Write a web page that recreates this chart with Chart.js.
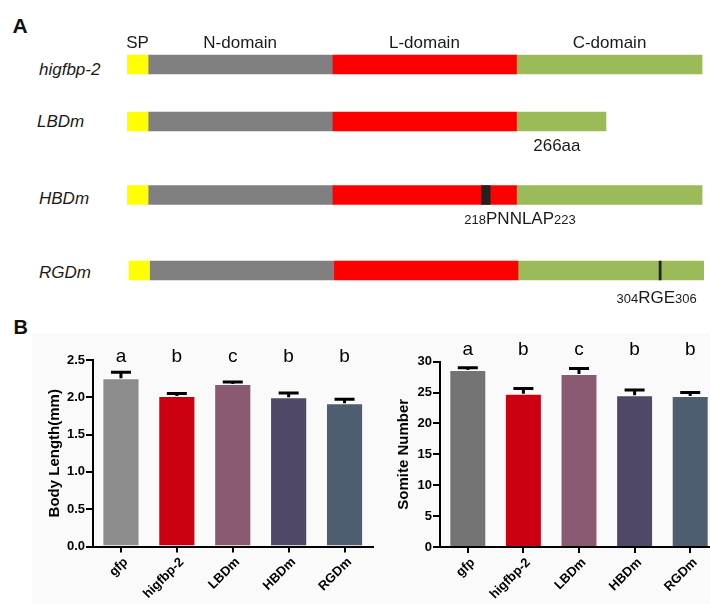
<!DOCTYPE html>
<html>
<head>
<meta charset="utf-8">
<script src="https://cdn.jsdelivr.net/npm/chart.js"></script>
<style>
html, body { margin: 0; padding: 0; background: #fff; overflow: hidden; }
#page { position: relative; width: 710px; height: 604px; overflow: hidden; font-family: "Liberation Sans", Arial, sans-serif; }
#page canvas { position: absolute; }
.tag { position: absolute; font-weight: bold; color: #111; }
.row { position: absolute; font-style: italic; font-size: 17px; line-height: 17px; color: #1a1a1a; }
#bgB { position: absolute; left: 32px; top: 333px; width: 678px; height: 271px; background: #fafafa; }
</style>
</head>
<body>
<div id="page">
  <div class="tag" style="left:12.5px;top:15px;font-size:21px;line-height:21px">A</div>
  <div class="row" style="left:39px;top:61px">higfbp-2</div>
  <div class="row" style="left:37px;top:113px">LBDm</div>
  <div class="row" style="left:39px;top:189.5px">HBDm</div>
  <div class="row" style="left:39px;top:264px">RGDm</div>
  <div id="bgB"></div>
  <div class="tag" style="left:13.5px;top:316.5px;font-size:20px;line-height:20px">B</div>
  <canvas id="body" width="385" height="274" style="left:0;top:330px"></canvas>
  <canvas id="somite" width="345" height="274" style="left:380px;top:330px"></canvas>
</div>
<script>
const FONT = '"Liberation Sans", Arial, sans-serif';
Chart.defaults.font.family = FONT;

// A: construct maps, in amino-acid units
const constructs = ['higfbp-2', 'LBDm', 'HBDm', 'RGDm'];
const domainNames = ['SP', 'N-domain', 'L-domain', 'C-domain'];
const domainColors = ['#ffff00', '#808080', '#ff0000', '#9bbb59'];
const spAA = [[0, 12], [0, 12], [0, 12], [0, 12]];
const nAA = [[12, 117], [12, 117], [12, 117], [12, 117]];
const lAA = [[117, 222], [117, 222], [117, 222], [117, 222]];
const cAA = [[222, 328], [222, 273], [222, 328], [222, 328]];
const mutAA = [null, null, [202, 207], [302.4, 303.6]];
const notePre = ['', '', '218', '304'];
const noteMain = ['', '266aa', 'PNNLAP', 'RGE'];
const notePost = ['', '', '223', '306'];
const noteAt = [null, 245, 224, 301];

// B: body length and somite number
const groups = ['gfp', 'higfbp-2', 'LBDm', 'HBDm', 'RGDm'];
const bodyLength = [2.255, 2.017, 2.178, 2.0, 1.92];
const bodyLengthSem = [0.08, 0.034, 0.027, 0.058, 0.055];
const somites = [28.64, 24.8, 27.99, 24.55, 24.43];
const somitesSem = [0.37, 0.88, 0.92, 0.85, 0.6];
const sigLetters = ['a', 'b', 'c', 'b', 'b'];

// row layout of panel A (page pixels)
const rowCenter = [64.5, 121.5, 195, 270.5];
const rowShift = [0, 0, 0, 1.5];
const noteDrop = [0, 29.2, 29, 32.8];

const rowText = {
  id: 'rowText',
  afterDatasetsDraw(chart, args, o) {
    const {ctx, chartArea, scales: {x}} = chart;
    const mid = (chartArea.top + chartArea.bottom) / 2;
    const i = o.row;
    ctx.save();
    ctx.fillStyle = '#1a1a1a';
    ctx.textBaseline = 'alphabetic';
    if (i === 0) {
      ctx.font = '17px ' + FONT;
      ctx.textAlign = 'center';
      [spAA, nAA, lAA, cAA].forEach((d, k) => {
        const r = d[i];
        ctx.fillText(domainNames[k], x.getPixelForValue((r[0] + r[1]) / 2), mid - 16.5);
      });
    }
    if (noteAt[i] !== null) {
      const parts = [[notePre[i], 13], [noteMain[i], 17], [notePost[i], 13]];
      let w = 0;
      parts.forEach(p => { ctx.font = p[1] + 'px ' + FONT; p.push(ctx.measureText(p[0]).width); w += p[2]; });
      let cx = x.getPixelForValue(noteAt[i]) - w / 2;
      ctx.textAlign = 'left';
      parts.forEach(p => { ctx.font = p[1] + 'px ' + FONT; ctx.fillText(p[0], cx, mid + noteDrop[i]); cx += p[2]; });
    }
    ctx.restore();
  }
};

function makeRow(i) {
  const wantTop = i === 0 ? 27 : 4;
  const padBottom = i === 0 ? 6 : 40;
  const top = Math.floor(rowCenter[i] - 20 - wantTop);
  const padTop = rowCenter[i] - 20 - top;
  const cv = document.createElement('canvas');
  cv.width = 710;
  cv.height = Math.ceil(padTop + 40 + padBottom);
  cv.style.left = '0px';
  cv.style.top = top + 'px';
  document.getElementById('page').appendChild(cv);
  const segs = [spAA, nAA, lAA, cAA].map((d, k) => ({
    data: [d[i]], backgroundColor: domainColors[k]
  }));
  segs.push({data: [mutAA[i]], backgroundColor: '#222', order: -1});
  new Chart(cv, {
    type: 'bar',
    data: {labels: [constructs[i]], datasets: segs},
    options: {
      indexAxis: 'y',
      responsive: false,
      animation: false,
      datasets: {bar: {grouped: false, barThickness: 19, borderWidth: 0}},
      layout: {padding: {left: 127 + rowShift[i], right: 7.5 - rowShift[i], top: padTop, bottom: cv.height - padTop - 40}},
      scales: {
        x: {display: false, min: 0, max: 328},
        y: {display: false}
      },
      plugins: {legend: {display: false}, tooltip: {enabled: false}, rowText: {row: i}}
    },
    plugins: [rowText]
  });
}
constructs.forEach((c, i) => makeRow(i));

const errorBars = {
  id: 'errorBars',
  afterDatasetsDraw(chart, args, o) {
    const {ctx, chartArea, scales: {x, y}} = chart;
    const means = chart.data.datasets[0].data;
    ctx.save();
    ctx.strokeStyle = '#000';
    ctx.lineWidth = 3;
    means.forEach((m, i) => {
      const px = x.getPixelForValue(i);
      const base = y.getPixelForValue(m);
      const tip = y.getPixelForValue(m + o.sem[i]);
      ctx.beginPath();
      ctx.moveTo(px, base);
      ctx.lineTo(px, tip);
      ctx.moveTo(px - 10, tip);
      ctx.lineTo(px + 10, tip);
      ctx.stroke();
    });
    ctx.fillStyle = '#000';
    ctx.font = '19px ' + FONT;
    ctx.textAlign = 'center';
    ctx.textBaseline = 'alphabetic';
    sigLetters.forEach((t, i) => ctx.fillText(t, x.getPixelForValue(i), chartArea.top + o.letterY));
    ctx.restore();
  }
};

function makeBars(id, values, sem, colors, yMax, step, digits, title, pad, yWidth, xHeight, letterY) {
  new Chart(document.getElementById(id), {
    type: 'bar',
    data: {
      labels: groups,
      datasets: [{data: values, backgroundColor: colors, borderColor: 'rgba(255,255,255,0.55)', borderWidth: 1,
        barPercentage: 0.665, categoryPercentage: 1}]
    },
    options: {
      responsive: false,
      animation: false,
      layout: {padding: pad},
      scales: {
        x: {
          ticks: {color: '#000', font: {size: 13, weight: 'bold'}, minRotation: 45, maxRotation: 45, autoSkip: false,
            padding: 2, labelOffset: 5},
          grid: {drawOnChartArea: false, drawTicks: true, tickLength: 6, color: '#000', lineWidth: 2, offset: false},
          border: {color: '#000', width: 2},
          afterFit: s => { s.height = xHeight; }
        },
        y: {
          min: 0, max: yMax,
          ticks: {stepSize: step, color: '#000', font: {size: 13, weight: 'bold'}, padding: 1,
            callback: v => v.toFixed(digits)},
          grid: {drawOnChartArea: false, drawTicks: true, tickLength: 7, color: '#000', lineWidth: 2},
          border: {color: '#000', width: 2},
          title: {display: true, text: title, color: '#000', font: {size: 15, weight: 'bold'}, padding: 0},
          afterFit: s => { s.width = yWidth; }
        }
      },
      plugins: {legend: {display: false}, tooltip: {enabled: false},
        errorBars: {sem: sem, letterY: letterY}}
    },
    plugins: [errorBars]
  });
}

makeBars('body', bodyLength, bodyLengthSem,
  ['#8c8c8c', '#cc0011', '#8a5a72', '#514867', '#4e5d70'],
  2.5, 0.5, 1, 'Body Length(mm)', {left: 46, right: 12.5, top: 30, bottom: 0}, 47, 57.5, 1.5);
makeBars('somite', somites, somitesSem,
  ['#737373', '#cc0011', '#8a5a72', '#514867', '#4e5d70'],
  30, 5, 0, 'Somite Number', {left: 15, right: 7, top: 31.7, bottom: 0}, 45, 57, -6.7);
</script>
</body>
</html>
